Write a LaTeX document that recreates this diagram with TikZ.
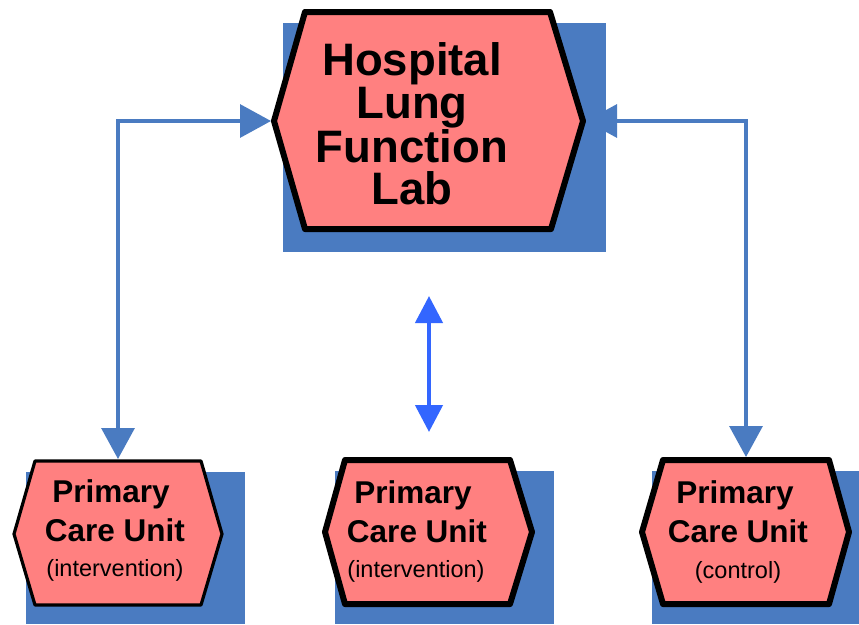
\documentclass[tikz,border=0pt]{standalone}
\usepackage{fontspec}
\setmainfont{Liberation Sans}
\usetikzlibrary{arrows.meta}
\definecolor{shadowblue}{HTML}{4A7BC1}
\definecolor{linkblue}{HTML}{4A7BC1}
\definecolor{brightblue}{HTML}{3366FF}
\definecolor{hexfill}{HTML}{FF8080}
\begin{document}
\begin{tikzpicture}[x=1pt,y=-1pt,
  shadowbox/.style={fill=shadowblue},
  hexbox/.style={draw=black, fill=hexfill, line join=round},
  link/.style={draw=linkblue, line width=3.3pt,
    {Triangle[length=31pt,width=33pt]}-{Triangle[length=31pt,width=33pt]}},
  midlink/.style={draw=brightblue, line width=4.5pt,
    {Triangle[length=27pt,width=27pt]}-{Triangle[length=27pt,width=27pt]}},
  bigtxt/.style={anchor=base, inner sep=0pt, font=\fontsize{45.5}{45.5}\selectfont\bfseries},
  midtxt/.style={anchor=base, inner sep=0pt, font=\fontsize{31.5}{31.5}\selectfont\bfseries},
  smalltxt/.style={anchor=base, inner sep=0pt, font=\fontsize{23.5}{23.5}\selectfont}]
\useasboundingbox (0,0) rectangle (859,624);
% shadows
\fill[shadowbox] (283,23) rectangle (606,252);
\fill[shadowbox] (26,472) rectangle (245,624);
\fill[shadowbox] (335,471) rectangle (554,624);
\fill[shadowbox] (652,471) rectangle (859,624);
% hexagons
\draw[hexbox, line width=6pt] (305,12) -- (550,12) -- (583,121) -- (551,229) -- (305,229) -- (274,121) -- cycle;
\draw[hexbox, line width=3.2pt] (35,461) -- (201,461) -- (222,534) -- (201,605) -- (35,605) -- (14,534) -- cycle;
\draw[hexbox, line width=6pt] (345,460) -- (510,460) -- (532,532) -- (510,604) -- (345,604) -- (325,532) -- cycle;
\draw[hexbox, line width=6pt] (663,460) -- (829,460) -- (849,532) -- (829,604) -- (663,604) -- (642,532) -- cycle;
% anchor points
\coordinate (T-w) at (271,121);
\coordinate (T-e) at (586,121);
\coordinate (L-n) at (118,459);
\coordinate (R-n) at (746,457);
\coordinate (M-top) at (429,296);
\coordinate (M-bot) at (429,432);
% texts
\node[bigtxt] (t1) at (412,75) {Hospital};
\node[bigtxt] (t2) at (412,118) {Lung};
\node[bigtxt] (t3) at (412,162) {Function};
\node[bigtxt] (t4) at (412,204) {Lab};
\node[midtxt] (l1) at (111,502) {Primary};
\node[midtxt] (l2) at (115,541) {Care Unit};
\node[smalltxt] (l3) at (115,576) {(intervention)};
\node[midtxt] (m1) at (413,503) {Primary};
\node[midtxt] (m2) at (417,542) {Care Unit};
\node[smalltxt] (m3) at (416,577) {(intervention)};
\node[midtxt] (r1) at (735,503) {Primary};
\node[midtxt] (r2) at (738,542) {Care Unit};
\node[smalltxt] (r3) at (738,578) {(control)};
% connectors
\draw[link] (T-w) -| (L-n);
\draw[link] (T-e) -| (R-n);
\draw[midlink] (M-top) -- (M-bot);
\end{tikzpicture}
\end{document}
